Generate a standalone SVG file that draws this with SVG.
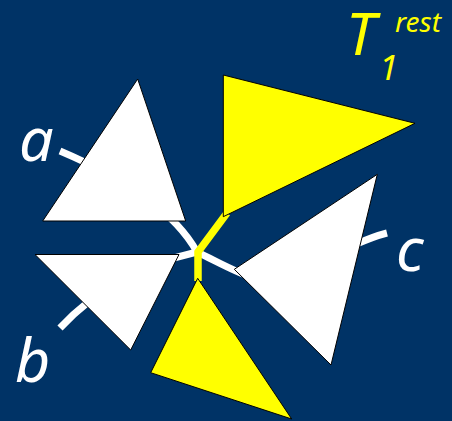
<svg xmlns="http://www.w3.org/2000/svg" width="452" height="421" viewBox="0 0 452 421">
<style>
.edge{fill:none;stroke:#FFFFFF;stroke-width:7;stroke-linecap:butt}
.band{fill:none;stroke:#FFFF00;stroke-width:7.5;stroke-linejoin:miter}
.wt{fill:#FFFFFF;stroke:#000000;stroke-width:1}
.yt{fill:#FFFF00;stroke:#000000;stroke-width:1}
.lbl{font-family:"Noto Sans","DejaVu Sans",sans-serif;font-style:italic;fill:#FFFFFF}
.ylbl{font-family:"Noto Sans","DejaVu Sans",sans-serif;font-style:italic;fill:#FFFF00}
</style>
<rect x="0" y="0" width="452" height="421" fill="#003366"/>
<g id="connectors">
<path class="edge" d="M197,252 Q166,196 60,151"/>
<path class="edge" d="M197,252 Q113,271 60,328"/>
<path class="edge" d="M197,252 C220,263 238,274 262,281 S340,245 387,233"/>
<polyline class="band" points="227,213 198,252 198,281"/>
</g>
<g id="node-a">
<polygon class="wt" points="137.7,79 42.7,221 185.7,221"/>
<text class="lbl" x="19" y="161" font-size="61">a</text>
</g>
<g id="node-b">
<polygon class="wt" points="35,254.5 179,254.5 130.7,350"/>
<text class="lbl" x="15" y="382" font-size="61">b</text>
</g>
<g id="node-c">
<polygon class="wt" points="377.3,174.3 234.3,269.3 331,365"/>
<text class="lbl" x="396" y="271" font-size="61">c</text>
</g>
<g id="node-t1rest">
<polygon class="yt" points="223.3,75 415,123.3 223.3,216.7"/>
<text class="ylbl" x="346" y="55" font-size="59">T</text>
<text class="ylbl" x="379" y="80" font-size="35">1</text>
<text class="ylbl" x="395" y="32" font-size="28">rest</text>
</g>
<g id="node-yellow-bottom">
<polygon class="yt" points="197.7,278.3 150.7,372.7 291.7,419"/>
</g>
</svg>
